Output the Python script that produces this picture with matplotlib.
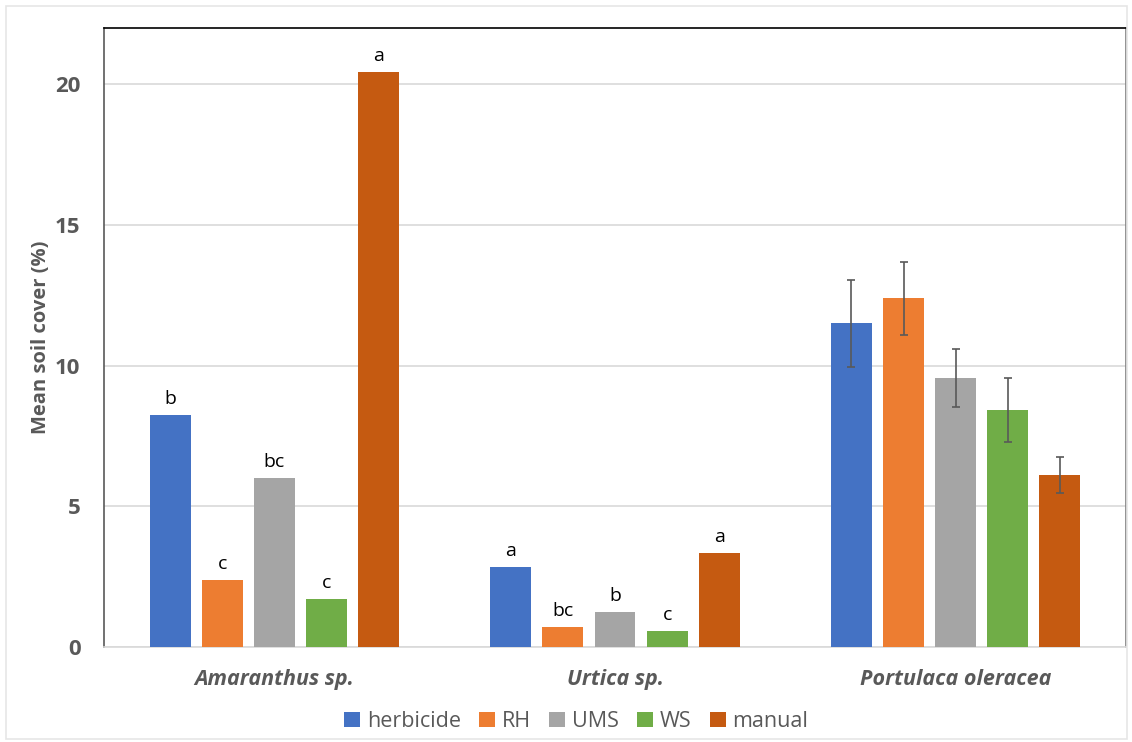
import matplotlib
matplotlib.use("Agg")
import matplotlib.pyplot as plt
import numpy as np

plt.rcParams['font.family'] = ['Open Sans', 'DejaVu Sans']

species = ["Amaranthus sp.", "Urtica sp.", "Portulaca oleracea"]
treatments = ["herbicide", "RH", "UMS", "WS", "manual"]
colors = ["#4472C4", "#ED7D31", "#A5A5A5", "#70AD47", "#C55A11"]

# mean cover per treatment, ordered by species
herbicide = [8.24, 2.84, 11.51]
rh = [2.38, 0.71, 12.40]
ums = [6.00, 1.24, 9.56]
ws = [1.70, 0.57, 8.42]
manual = [20.43, 3.34, 6.11]
values = [herbicide, rh, ums, ws, manual]

# error bars only for Portulaca oleracea
portulaca_err = [1.55, 1.30, 1.03, 1.14, 0.64]

# significance letters (Amaranthus, Urtica)
letters_amaranthus = ["b", "c", "bc", "c", "a"]
letters_urtica = ["a", "bc", "b", "c", "a"]

fig = plt.figure(figsize=(11.32, 7.42), dpi=100)
ax = fig.add_axes([0.0919, 0.128, 0.9028, 0.8343])

# outer chart border
fig.patches.append(plt.Rectangle((0.0053, 0.004), 0.99, 0.988, transform=fig.transFigure,
                                 fill=False, edgecolor="#E6E6E6", linewidth=1.2))

x = np.arange(len(species))
width = 0.12
pitch = 0.153
offsets = (np.arange(len(treatments)) - 2) * pitch

for i, (name, vals, col) in enumerate(zip(treatments, values, colors)):
    ax.bar(x + offsets[i], vals, width, color=col, label=name, zorder=3)

for i in range(len(treatments)):
    ax.errorbar(x[2] + offsets[i], values[i][2], yerr=portulaca_err[i], fmt="none",
                ecolor="#595959", elinewidth=1.2, capsize=3, capthick=1.2, zorder=4)

for i in range(len(treatments)):
    for j, lab in ((0, letters_amaranthus[i]), (1, letters_urtica[i])):
        ax.annotate(lab, (x[j] + offsets[i], values[i][j]), xytext=(0, 5),
                    textcoords="offset points", ha="center", va="bottom",
                    fontsize=14, color="black")

ax.set_xlim(-0.5, 2.5)
ax.set_ylim(0, 22)
ax.set_yticks([0, 5, 10, 15, 20])
ax.set_xticks(x)
ax.set_xticklabels(species, fontstyle="italic", fontweight="bold", fontsize=15.5, color="#595959")
ax.tick_params(axis="y", labelsize=16, colors="#595959", length=0, pad=17)
ax.tick_params(axis="x", length=0, pad=16)
for t in ax.get_yticklabels():
    t.set_fontweight("bold")
ax.yaxis.grid(True, color="#D9D9D9", linewidth=1.2, zorder=0)
ax.set_axisbelow(True)

ax.set_ylabel("Mean soil cover (%)", fontsize=14.5, fontweight="bold", color="#595959", labelpad=3)

ax.spines["top"].set_color("black")
ax.spines["left"].set_color("#595959")
ax.spines["right"].set_color("#7F7F7F")
ax.spines["bottom"].set_color("#D9D9D9")
for s in ax.spines.values():
    s.set_linewidth(1.2)

leg = ax.legend(loc="upper center", bbox_to_anchor=(0.462, -0.072), ncol=5, frameon=False,
                fontsize=15.5, handlelength=0.75, handleheight=0.75, handletextpad=0.3,
                columnspacing=0.85)
for t in leg.get_texts():
    t.set_color("#595959")

fig.savefig("out.png", dpi=100)
